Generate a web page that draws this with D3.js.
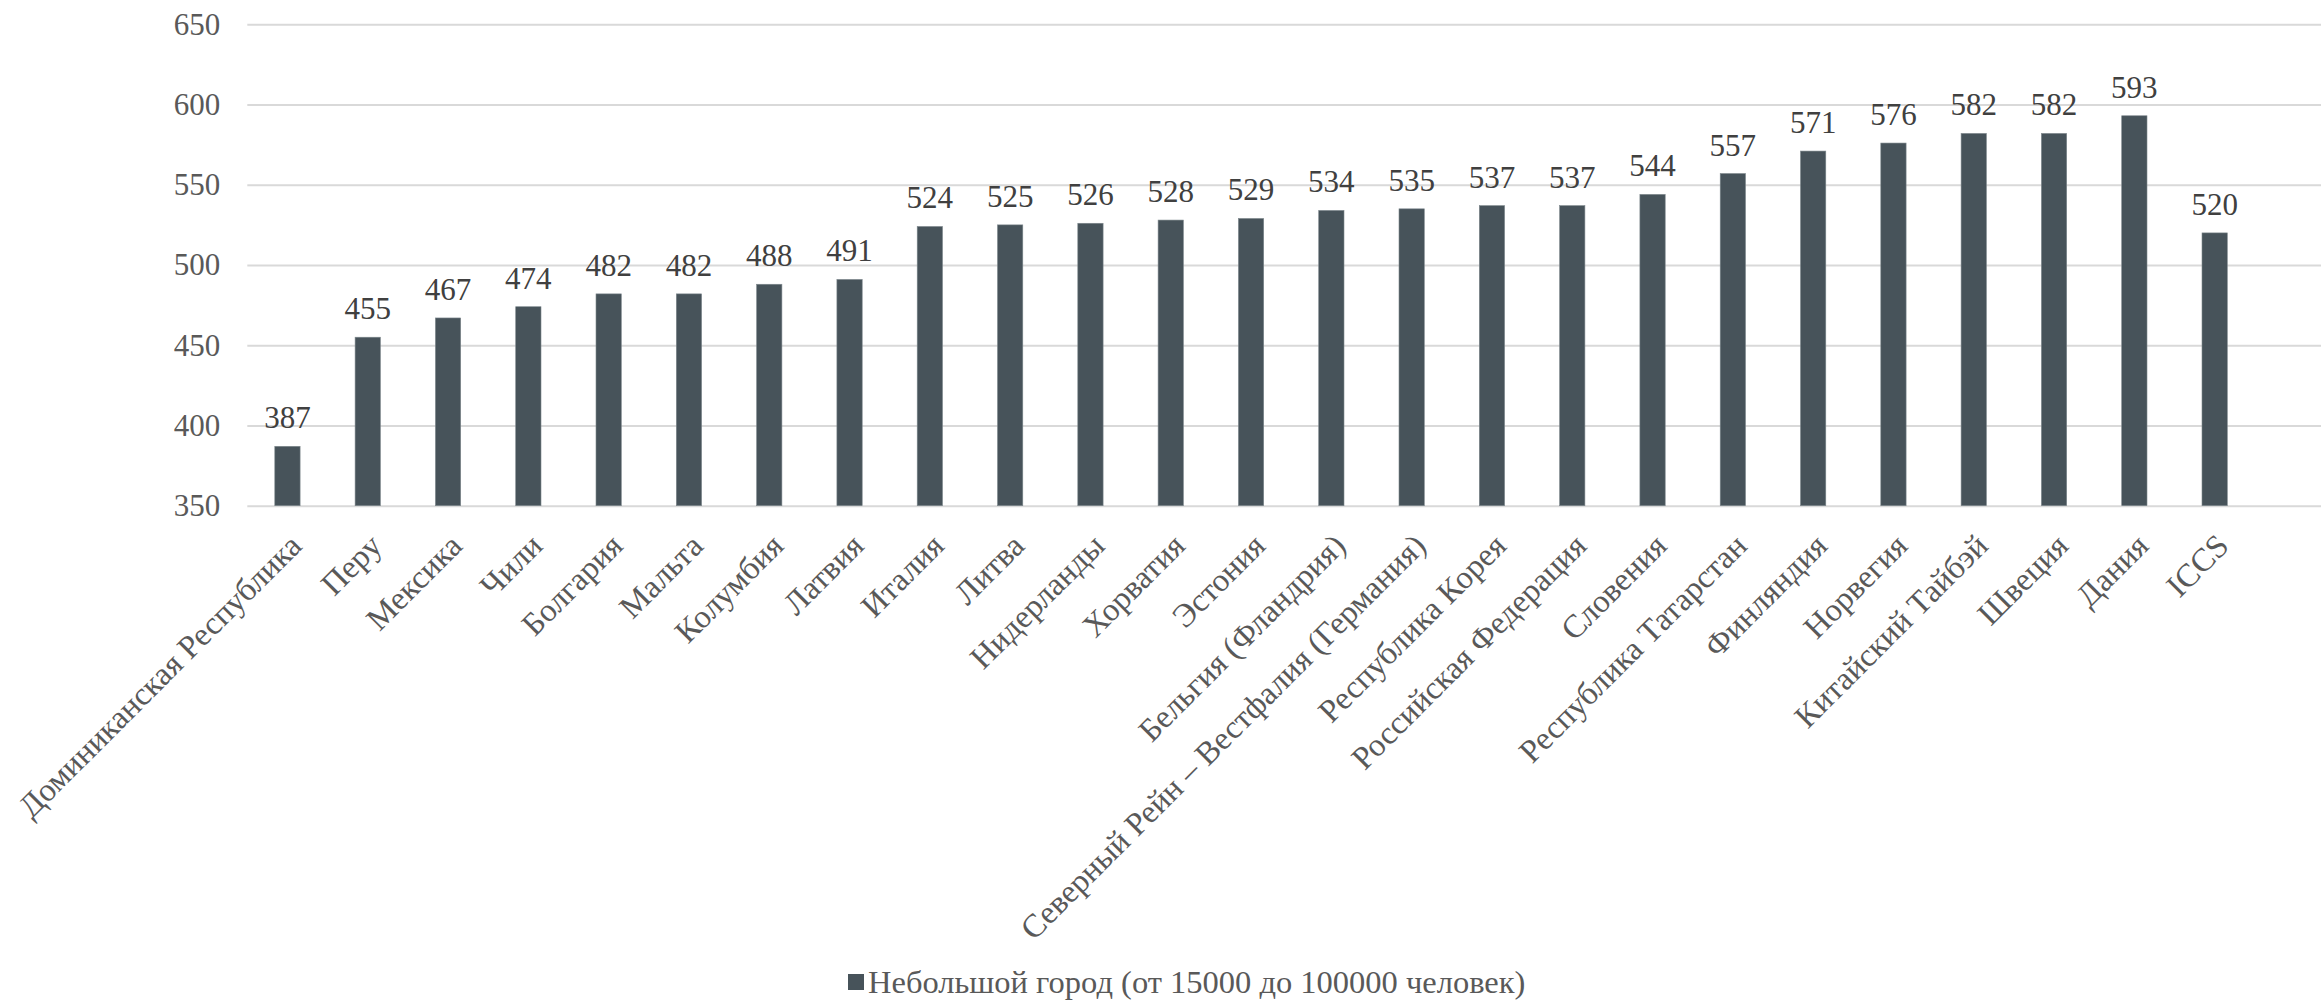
<!DOCTYPE html>
<html>
<head>
<meta charset="utf-8">
<script src="https://cdn.jsdelivr.net/npm/d3@7"></script>
<style>
  html, body { margin: 0; padding: 0; background: #ffffff; }
  svg { display: block; }
</style>
</head>
<body>
<script>
const categories = [
  "Доминиканская Республика", "Перу", "Мексика", "Чили", "Болгария", "Мальта",
  "Колумбия", "Латвия", "Италия", "Литва", "Нидерланды", "Хорватия", "Эстония",
  "Бельгия (Фландрия)", "Северный Рейн – Вестфалия (Германия)", "Республика Корея",
  "Российская Федерация", "Словения", "Республика Татарстан", "Финляндия",
  "Норвегия", "Китайский Тайбэй", "Швеция", "Дания", "ICCS"
];
const values = [387, 455, 467, 474, 482, 482, 488, 491, 524, 525, 526, 528, 529,
  534, 535, 537, 537, 544, 557, 571, 576, 582, 582, 593, 520];
const yTicks = [350, 400, 450, 500, 550, 600, 650];
const seriesName = "Небольшой город (от 15000 до 100000 человек)";

const W = 2321, H = 1000;
const plotLeft = 247.3, step = 80.3, plotTop = 24.3, plotBottom = 505.7;
const barColor = "#47535a";
const numSize = 31, textSize = 32.5;
const FONT = "'Liberation Serif', serif";

const svg = d3.select("body").append("svg").attr("width", W).attr("height", H)
  .attr("font-family", FONT);

const x = d3.scaleBand()
  .domain(categories)
  .range([plotLeft, plotLeft + step * categories.length])
  .paddingInner(0.685)
  .paddingOuter(0.3425);

const y = d3.scaleLinear().domain([350, 650]).range([plotBottom, plotTop]);

const yAxis = svg.append("g")
  .attr("transform", `translate(${plotLeft},0)`)
  .call(d3.axisLeft(y).tickValues(yTicks).tickSize(-(W - plotLeft)).tickPadding(27).tickFormat(d3.format("d")));
yAxis.attr("font-family", FONT).attr("font-size", numSize);
yAxis.select(".domain").remove();
yAxis.selectAll(".tick line").attr("stroke", "#d9d9d9").attr("stroke-width", 2);
yAxis.selectAll(".tick text").attr("fill", "#595959");

const data = categories.map((c, i) => ({ c, v: values[i] }));
svg.append("g").selectAll("rect").data(data).join("rect")
  .attr("x", d => x(d.c))
  .attr("y", d => y(d.v))
  .attr("width", x.bandwidth())
  .attr("height", d => y(350) - y(d.v))
  .attr("fill", barColor)
  .attr("stroke", "#7d878c")
  .attr("stroke-width", 0.6);

svg.append("g").attr("font-size", numSize).selectAll("text").data(data).join("text")
  .attr("x", d => x(d.c) + x.bandwidth() / 2)
  .attr("y", d => y(d.v) - 18)
  .attr("text-anchor", "middle")
  .attr("fill", "#404040")
  .text(d => d.v);

const xAxis = svg.append("g")
  .attr("transform", `translate(0,${plotBottom})`)
  .call(d3.axisBottom(x).tickSize(0).tickPadding(0));
xAxis.attr("font-family", FONT).attr("font-size", textSize);
xAxis.select(".domain").remove();
xAxis.selectAll(".tick text")
  .attr("y", 0)
  .attr("dy", 0)
  .attr("text-anchor", "end")
  .attr("transform", "translate(16,42) rotate(-45)")
  .attr("fill", "#595959");

const legend = svg.append("g").attr("font-size", textSize);
legend.append("rect")
  .attr("x", 848).attr("y", 974).attr("width", 16).attr("height", 16)
  .attr("fill", barColor);
legend.append("text")
  .attr("x", 868).attr("y", 993)
  .attr("fill", "#595959")
  .text(seriesName);
</script>
</body>
</html>
